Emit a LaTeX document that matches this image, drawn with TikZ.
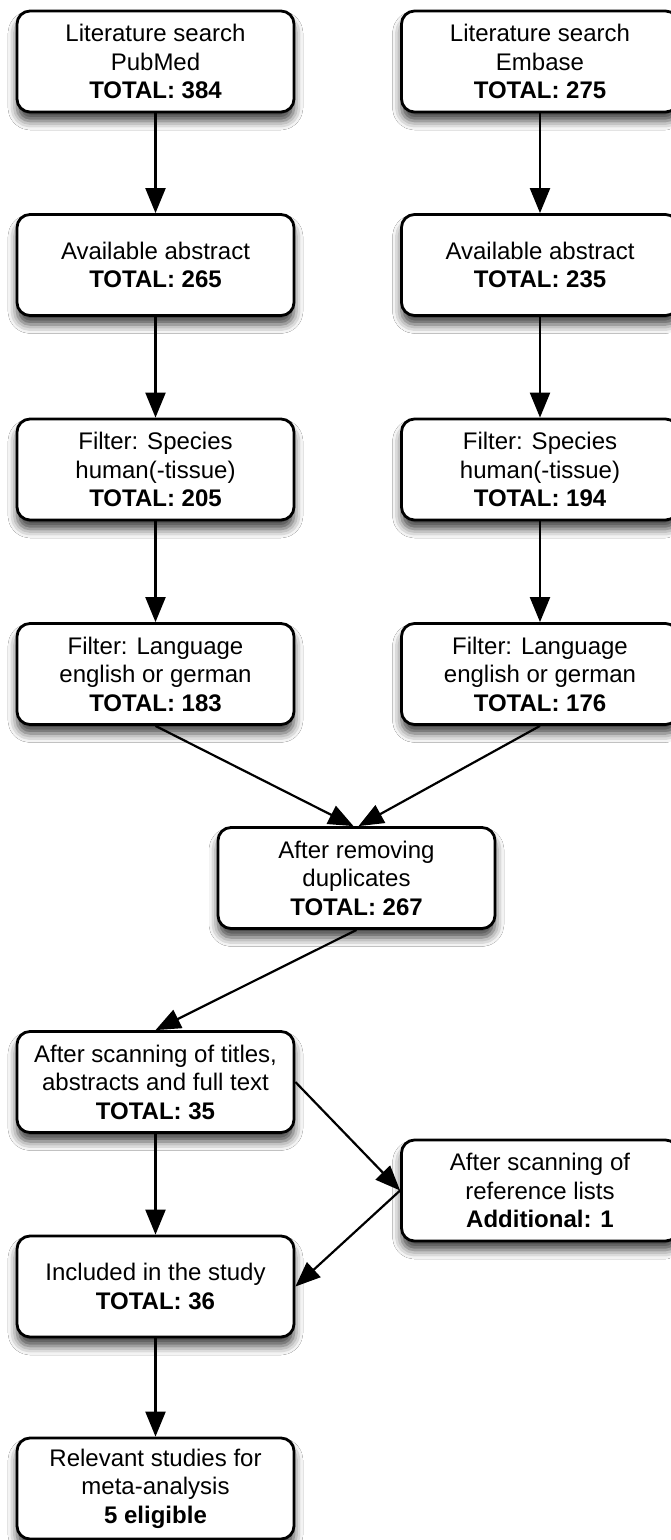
\documentclass[tikz,border=0pt]{standalone}
\usepackage{fontspec}
\setmainfont{Liberation Sans}
\usetikzlibrary{arrows.meta,shadows.blur}
\begin{document}
\begin{tikzpicture}[x=1pt,y=-1pt,
  box/.style={draw, line width=2.8pt, rounded corners=13pt, fill=white,
    minimum width=277pt, minimum height=101pt, align=center, inner sep=2pt,
    font=\fontsize{24}{28.5}\selectfont,
    blur shadow={shadow xshift=0pt, shadow yshift=-9pt, shadow blur radius=9pt, shadow opacity=75}},
  arr/.style={line width=2.2pt, -{Triangle[length=25pt,width=20pt]}}
]
\fill[white] (0,0) rectangle (670,1540);
\useasboundingbox (0,0) rectangle (670,1540);

\node[box] (l1) at (155.5,61.5) {Literature search\\PubMed\\\textbf{TOTAL: 384}};
\node[box] (r1) at (540,61.5) {Literature search\\Embase\\\textbf{TOTAL: 275}};
\node[box] (l2) at (155.5,265) {Available abstract\\\textbf{TOTAL: 265}};
\node[box] (r2) at (540,265) {Available abstract\\\textbf{TOTAL: 235}};
\node[box] (l3) at (155.5,469.5) {Filter: Species\\human(-tissue)\\\textbf{TOTAL: 205}};
\node[box] (r3) at (540,469.5) {Filter: Species\\human(-tissue)\\\textbf{TOTAL: 194}};
\node[box] (l4) at (155.5,674) {Filter: Language\\english or german\\\textbf{TOTAL: 183}};
\node[box] (r4) at (540,674) {Filter: Language\\english or german\\\textbf{TOTAL: 176}};
\node[box] (mid) at (356.5,878) {After removing\\duplicates\\\textbf{TOTAL: 267}};
\node[box] (scan) at (155.5,1082) {After scanning of titles,\\abstracts and full text\\\textbf{TOTAL: 35}};
\node[box] (ref) at (540,1190.5) {After scanning of\\reference lists\\\textbf{Additional: 1}};
\node[box] (incl) at (155.5,1286.5) {Included in the study\\\textbf{TOTAL: 36}};
\node[box] (rel) at (155.5,1488.5) {Relevant studies for\\meta-analysis\\\textbf{5 eligible}};

\draw[arr] (l1) -- (l2);
\draw[arr] (r1) -- (r2);
\draw[arr] (l2) -- (l3);
\draw[arr] (r2) -- (r3);
\draw[arr] (l3) -- (l4);
\draw[arr] (r3) -- (r4);
\draw[arr] (l4.south) -- ([xshift=-3pt]mid.north);
\draw[arr] (r4.south) -- ([xshift=2pt]mid.north);
\draw[arr] (mid.south) -- (scan.north);
\draw[arr] (scan.east) -- (ref.west);
\draw[arr] (ref.west) -- (incl.east);
\draw[arr] (scan) -- (incl);
\draw[arr] (incl) -- (rel);
\end{tikzpicture}
\end{document}
